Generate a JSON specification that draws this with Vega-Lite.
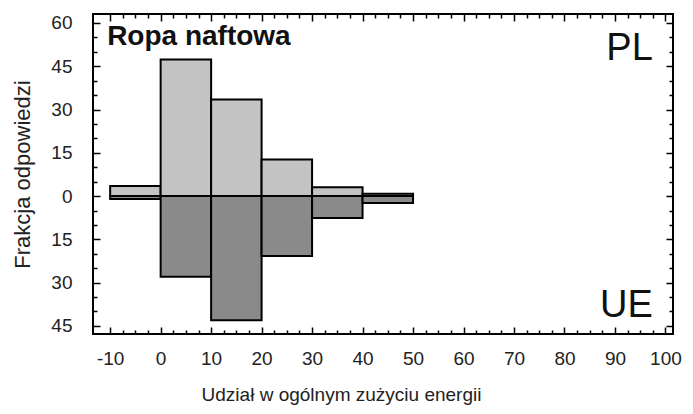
{
  "$schema": "https://vega.github.io/schema/vega-lite/v6.json",
  "width": 580,
  "height": 320,
  "autosize": {"type": "none"},
  "padding": {"left": 93, "top": 14, "right": 20, "bottom": 80},
  "background": "white",
  "datasets": {
    "bars": [
      {"lo": -10, "hi": 0, "kraj": "PL", "frakcja": 3.5},
      {"lo": 0, "hi": 10, "kraj": "PL", "frakcja": 47.3},
      {"lo": 10, "hi": 20, "kraj": "PL", "frakcja": 33.5},
      {"lo": 20, "hi": 30, "kraj": "PL", "frakcja": 12.7},
      {"lo": 30, "hi": 40, "kraj": "PL", "frakcja": 3.1},
      {"lo": 40, "hi": 50, "kraj": "PL", "frakcja": 0.8},
      {"lo": -10, "hi": 0, "kraj": "UE", "frakcja": -1.0},
      {"lo": 0, "hi": 10, "kraj": "UE", "frakcja": -28.0},
      {"lo": 10, "hi": 20, "kraj": "UE", "frakcja": -43.0},
      {"lo": 20, "hi": 30, "kraj": "UE", "frakcja": -20.8},
      {"lo": 30, "hi": 40, "kraj": "UE", "frakcja": -7.6},
      {"lo": 40, "hi": 50, "kraj": "UE", "frakcja": -2.4}
    ],
    "labels": [
      {"label": "PL", "x": 97.5, "y": 47.1},
      {"label": "UE", "x": 97.5, "y": -41.9}
    ],
    "title": [
      {"label": "Ropa naftowa", "x": -10.6, "y": 52.3}
    ]
  },
  "resolve": {"axis": {"x": "independent", "y": "independent"}},
  "layer": [
    {
      "data": {"name": "bars"},
      "transform": [{"filter": "datum.kraj === 'PL'"}],
      "mark": {"type": "bar", "fill": "#c3c3c3", "stroke": "#000", "strokeWidth": 2},
      "encoding": {
        "x": {
          "field": "lo", "type": "quantitative",
          "scale": {"domain": [-13.4, 101.5], "nice": false, "zero": false},
          "axis": {
            "orient": "bottom",
            "title": "Udział w ogólnym zużyciu energii",
            "titleX": 248,
            "titlePadding": 14,
            "values": [-10, -7.5, -5, -2.5, 0, 2.5, 5, 7.5, 10, 12.5, 15, 17.5, 20, 22.5, 25, 27.5, 30, 32.5, 35, 37.5, 40, 42.5, 45, 47.5, 50, 52.5, 55, 57.5, 60, 62.5, 65, 67.5, 70, 72.5, 75, 77.5, 80, 82.5, 85, 87.5, 90, 92.5, 95, 97.5, 100],
            "labelExpr": "datum.value % 10 === 0 ? toString(datum.value) : ''",
            "tickSize": {"condition": {"test": "datum.value % 10 === 0", "value": -7}, "value": -4},
            "labelPadding": 22
          }
        },
        "x2": {"field": "hi"},
        "y": {
          "field": "frakcja", "type": "quantitative",
          "scale": {"domain": [-47.8, 63.1], "nice": false, "zero": false},
          "axis": {
            "orient": "left",
            "title": "Frakcja odpowiedzi",
            "titleFontSize": 22,
            "titlePadding": 16,
            "values": [-45, -40, -35, -30, -25, -20, -15, -10, -5, 0, 5, 10, 15, 20, 25, 30, 35, 40, 45, 50, 55, 60],
            "labelExpr": "datum.value % 15 === 0 ? toString(abs(datum.value)) : ''",
            "tickSize": {"condition": {"test": "datum.value % 15 === 0", "value": -7}, "value": -4},
            "labelPadding": 28
          }
        },
        "y2": {"datum": 0}
      }
    },
    {
      "data": {"name": "bars"},
      "transform": [{"filter": "datum.kraj === 'UE'"}],
      "mark": {"type": "bar", "fill": "#8a8a8a", "stroke": "#000", "strokeWidth": 2},
      "encoding": {
        "x": {
          "field": "lo", "type": "quantitative",
          "scale": {"domain": [-13.4, 101.5], "nice": false, "zero": false},
          "axis": {
            "orient": "top",
            "title": null,
            "labels": false,
            "values": [-10, -7.5, -5, -2.5, 0, 2.5, 5, 7.5, 10, 12.5, 15, 17.5, 20, 22.5, 25, 27.5, 30, 32.5, 35, 37.5, 40, 42.5, 45, 47.5, 50, 52.5, 55, 57.5, 60, 62.5, 65, 67.5, 70, 72.5, 75, 77.5, 80, 82.5, 85, 87.5, 90, 92.5, 95, 97.5, 100],
            "tickSize": {"condition": {"test": "datum.value % 10 === 0", "value": -7}, "value": -4}
          }
        },
        "x2": {"field": "hi"},
        "y": {
          "field": "frakcja", "type": "quantitative",
          "scale": {"domain": [-47.8, 63.1], "nice": false, "zero": false},
          "axis": {
            "orient": "right",
            "title": null,
            "labels": false,
            "values": [-45, -40, -35, -30, -25, -20, -15, -10, -5, 0, 5, 10, 15, 20, 25, 30, 35, 40, 45, 50, 55, 60],
            "tickSize": {"condition": {"test": "datum.value % 15 === 0", "value": -7}, "value": -4}
          }
        },
        "y2": {"datum": 0}
      }
    },
    {
      "mark": {"type": "rule", "stroke": "#000", "strokeWidth": 2.5},
      "encoding": {
        "x": {"datum": -10, "type": "quantitative", "scale": {"domain": [-13.4, 101.5], "nice": false, "zero": false}, "axis": null},
        "x2": {"datum": 99},
        "y": {"datum": 0, "type": "quantitative", "scale": {"domain": [-47.8, 63.1], "nice": false, "zero": false}, "axis": null}
      }
    },
    {
      "data": {"name": "title"},
      "mark": {"type": "text", "font": "Liberation Sans", "fontWeight": "bold", "fontSize": 28, "align": "left", "baseline": "alphabetic", "color": "#111"},
      "encoding": {
        "x": {"field": "x", "type": "quantitative", "scale": {"domain": [-13.4, 101.5], "nice": false, "zero": false}, "axis": null},
        "y": {"field": "y", "type": "quantitative", "scale": {"domain": [-47.8, 63.1], "nice": false, "zero": false}, "axis": null},
        "text": {"field": "label"}
      }
    },
    {
      "data": {"name": "labels"},
      "mark": {"type": "text", "font": "Liberation Sans", "fontSize": 38, "align": "right", "baseline": "alphabetic", "color": "#111"},
      "encoding": {
        "x": {"field": "x", "type": "quantitative", "scale": {"domain": [-13.4, 101.5], "nice": false, "zero": false}, "axis": null},
        "y": {"field": "y", "type": "quantitative", "scale": {"domain": [-47.8, 63.1], "nice": false, "zero": false}, "axis": null},
        "text": {"field": "label"}
      }
    }
  ],
  "config": {
    "view": {"stroke": "#000", "strokeWidth": 2},
    "axis": {
      "domain": false,
      "grid": false,
      "labelFont": "Liberation Sans",
      "labelFontSize": 19,
      "labelColor": "#222",
      "titleFont": "Liberation Sans",
      "titleFontSize": 19,
      "titleFontWeight": "normal",
      "titleColor": "#222",
      "tickColor": "#000",
      "tickWidth": 1.5,
      "labelOverlap": false,
      "labelFlush": false
    }
  }
}
